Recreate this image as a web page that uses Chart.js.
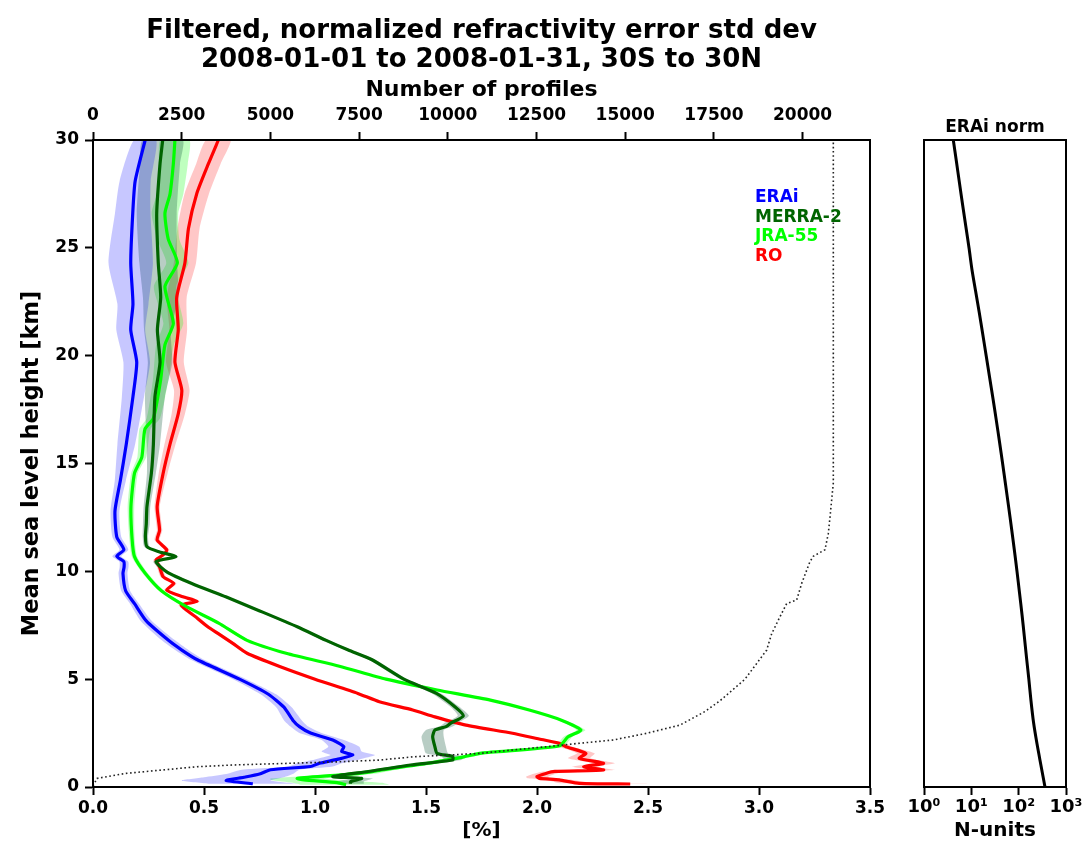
<!DOCTYPE html>
<html>
<head>
<meta charset="utf-8">
<script src="https://cdn.jsdelivr.net/npm/chart.js@4/dist/chart.umd.min.js"></script>
<style>
  html, body { margin: 0; padding: 0; background: #fff; }
  #wrap { position: relative; width: 1086px; height: 847px; overflow: hidden; }
  canvas { position: absolute; top: 0; }
</style>
</head>
<body>
<div id="wrap">
  <canvas id="main" width="900" height="847" style="left:0"></canvas>
  <canvas id="side" width="186" height="847" style="left:900px"></canvas>
</div>
<script>
// ---------------- DATA ----------------
const titleLines = ['Filtered, normalized refractivity error std dev', '2008-01-01 to 2008-01-31, 30S to 30N'];
const seriesNames = ['ERAi', 'MERRA-2', 'JRA-55', 'RO'];
const seriesColors = ['#0000ff', '#006400', '#00ff00', '#ff0000'];
const bandColors = ['rgba(0,0,255,0.22)', 'rgba(20,90,60,0.3)', 'rgba(0,255,0,0.25)', 'rgba(255,0,0,0.22)'];

// ERAi
const eraiHeight = [0.15,0.3,0.45,0.6,0.8,0.95,1.1,1.28,1.48,1.65,1.87,2.18,2.5,2.8,3.1,3.7,4.3,5.0,5.9,6.35,6.8,7.7,8.5,9.1,9.9,10.2,10.45,10.7,11.0,11.6,12.8,14.2,15.9,18.1,19.7,21.2,22.4,24.3,26.6,28.1,30];
const eraiValue  = [0.72,0.60,0.68,0.75,0.80,0.98,1.02,1.10,1.17,1.12,1.13,1.08,0.98,0.93,0.90,0.86,0.79,0.66,0.47,0.40,0.34,0.24,0.187,0.147,0.135,0.14,0.139,0.107,0.139,0.107,0.099,0.123,0.15,0.18,0.197,0.17,0.18,0.17,0.179,0.19,0.235];
const eraiSpread = [0.2,0.2,0.18,0.15,0.13,0.1,0.1,0.1,0.1,0.09,0.07,0.05,0.05,0.04,0.04,0.035,0.035,0.03,0.03,0.03,0.03,0.025,0.02,0.02,0.02,0.02,0.02,0.02,0.02,0.02,0.02,0.025,0.04,0.05,0.06,0.065,0.07,0.1,0.08,0.07,0.05];

// MERRA-2
const merraHeight = [0.15,0.25,0.4,0.48,0.72,1.02,1.25,1.41,1.56,1.87,2.33,2.64,2.8,2.95,3.3,3.72,4.34,5.0,5.9,6.35,6.81,7.43,8.2,8.82,9.44,9.98,10.45,10.68,10.9,11.14,11.6,12.2,13.0,14.55,15.9,18.1,19.7,21.2,22.7,24.3,26.6,28.9,30];
const merraValue  = [1.16,1.16,1.21,1.08,1.24,1.43,1.62,1.62,1.55,1.54,1.53,1.54,1.59,1.61,1.668,1.63,1.547,1.40,1.257,1.15,1.048,0.92,0.743,0.598,0.445,0.332,0.284,0.373,0.30,0.243,0.236,0.24,0.243,0.263,0.272,0.279,0.302,0.29,0.305,0.294,0.287,0.302,0.314];
const merraSpread = [0.06,0.06,0.05,0.05,0.04,0.04,0.04,0.05,0.05,0.05,0.05,0.04,0.03,0.03,0.025,0.02,0.02,0.015,0.015,0.015,0.015,0.012,0.012,0.012,0.012,0.012,0.012,0.012,0.012,0.012,0.012,0.015,0.015,0.02,0.03,0.045,0.055,0.06,0.08,0.085,0.09,0.09,0.09];

// JRA-55
const jraHeight = [0.1,0.2,0.33,0.4,0.63,0.79,1.1,1.4,1.57,1.9,2.33,2.64,3.1,3.57,4.03,4.5,5.0,5.6,6.2,6.8,7.6,8.36,9.1,9.9,10.68,11.5,13.0,14.55,15.3,16.6,17.1,18.9,20.5,21.5,23.2,24.3,25.4,26.6,27.5,28.9,30];
const jraValue  = [1.14,1.10,0.95,0.92,1.2,1.3,1.51,1.67,1.75,2.1,2.14,2.198,2.11,1.965,1.79,1.55,1.32,1.11,0.87,0.694,0.566,0.421,0.308,0.236,0.187,0.176,0.171,0.187,0.22,0.234,0.272,0.305,0.324,0.362,0.324,0.38,0.339,0.324,0.347,0.362,0.369];
const jraSpread = [0.2,0.2,0.15,0.12,0.08,0.06,0.05,0.04,0.03,0.02,0.02,0.02,0.015,0.012,0.012,0.012,0.012,0.012,0.012,0.012,0.012,0.012,0.012,0.012,0.012,0.012,0.015,0.015,0.02,0.025,0.03,0.035,0.04,0.045,0.05,0.05,0.05,0.06,0.06,0.065,0.065];

// RO
const roHeight = [0.14,0.17,0.33,0.40,0.48,0.63,0.72,0.79,0.94,1.1,1.33,1.56,1.87,2.03,2.2,2.49,2.87,3.25,3.57,3.95,4.34,5.0,5.6,6.2,6.66,7.1,7.43,7.9,8.44,8.6,8.82,9.13,9.44,9.75,10.2,10.53,10.76,11.0,11.45,11.9,13.0,14.55,15.9,17.3,18.4,19.7,21.2,22.7,24.3,25.9,27.5,28.9,30];
const roValue  = [2.42,2.19,2.10,2.01,2.00,2.04,2.08,2.30,2.21,2.30,2.19,2.22,2.13,2.10,2.02,1.89,1.68,1.54,1.44,1.29,1.193,1.0,0.838,0.694,0.63,0.566,0.517,0.461,0.397,0.469,0.405,0.332,0.364,0.316,0.30,0.284,0.316,0.332,0.289,0.30,0.289,0.316,0.347,0.384,0.40,0.369,0.384,0.377,0.414,0.43,0.467,0.52,0.565];
const roSpread = [0.08,0.08,0.06,0.05,0.05,0.05,0.05,0.05,0.05,0.05,0.05,0.04,0.03,0.03,0.02,0.02,0.015,0.012,0.012,0.012,0.012,0.012,0.012,0.012,0.012,0.012,0.012,0.012,0.012,0.012,0.012,0.012,0.012,0.012,0.012,0.012,0.012,0.012,0.012,0.012,0.012,0.02,0.025,0.03,0.035,0.04,0.04,0.045,0.05,0.05,0.055,0.055,0.055];

// Number of profiles (top axis)
const profileHeight = [0.05,0.2,0.4,0.63,0.94,1.02,1.17,1.25,1.40,1.56,1.72,1.87,2.03,2.18,2.49,2.87,3.5,4.0,5.0,6.35,7.1,7.74,8.5,8.67,9.44,10.45,10.7,11.0,11.76,12.5,14.1,30];
const profileCount  = [0,50,113,922,2931,3943,6962,8089,9019,10908,11847,12787,13726,14665,15604,16544,17249,17672,18376,18988,19128,19316,19551,19833,19974,20208,20302,20631,20725,20772,20866,20866];

// ERAi norm (right panel)
const normHeight = [0,1,2,3,4,5,6,7,8,9,10,11,12,13,14,15,16,17,18,19,20,21,22,23,24,25,26,27,28,29,30];
const normValue  = [360,296,244,206,182,164,146.5,131.5,117.6,104.2,92.2,80.9,70.6,61.3,53.0,45.8,39.4,33.7,28.7,24.3,20.6,17.4,14.7,12.3,10.3,8.93,7.64,6.54,5.62,4.84,4.16];

// axis ticks
const pctTicks = [0, 0.5, 1.0, 1.5, 2.0, 2.5, 3.0, 3.5];
const profileTicks = [0, 2500, 5000, 7500, 10000, 12500, 15000, 17500, 20000];
const heightTicks = [0, 5, 10, 15, 20, 25, 30];
const normTicks = [1, 10, 100, 1000];
const normTickLabels = ['10\u2070', '10\u00b9', '10\u00b2', '10\u00b3'];

// ---------------- BUILD ----------------
Chart.defaults.font.family = '"DejaVu Sans", sans-serif';
Chart.defaults.font.weight = 'bold';
Chart.defaults.color = '#000';

function pts(xs, ys) { return xs.map((x, i) => ({x: x, y: ys[i]})); }
function bandPts(xs, sp, ys) {
  const up = xs.map((x, i) => ({x: x + sp[i], y: ys[i]}));
  const lo = xs.map((x, i) => ({x: x - sp[i], y: ys[i]})).reverse();
  return up.concat(lo);
}

const series = [
  [eraiValue, eraiSpread, eraiHeight],
  [merraValue, merraSpread, merraHeight],
  [jraValue, jraSpread, jraHeight],
  [roValue, roSpread, roHeight]
];

const datasets = [];
series.forEach((s, k) => {
  datasets.push({
    label: seriesNames[k] + ' spread',
    data: bandPts(s[0], s[1], s[2]),
    showLine: true, fill: 'shape', backgroundColor: bandColors[k],
    borderWidth: 0, borderColor: 'rgba(0,0,0,0)', pointRadius: 0, tension: 0.2, order: 3
  });
});
series.forEach((s, k) => {
  datasets.push({
    label: seriesNames[k],
    data: pts(s[0], s[2]),
    showLine: true, fill: false, borderColor: seriesColors[k], borderWidth: 3.2,
    pointRadius: 0, tension: 0.2, order: 2
  });
});
datasets.push({
  label: 'Number of profiles',
  data: pts(profileCount, profileHeight),
  xAxisID: 'x2',
  showLine: true, fill: false, borderColor: '#222', borderWidth: 1.6,
  borderDash: [1.6, 2.6], pointRadius: 0, order: 1
});

const tickGrid = { display: true, drawOnChartArea: false, drawTicks: true, tickLength: 8, tickWidth: 2, color: '#000', tickColor: '#000' };
const axisBorder = { display: true, color: '#000', width: 2 };

const framePlugin = {
  id: 'frame',
  afterDatasetsDraw(chart) {
    const a = chart.chartArea, ctx = chart.ctx;
    ctx.save();
    ctx.strokeStyle = '#000'; ctx.lineWidth = 2;
    ctx.strokeRect(a.left, a.top, a.right - a.left, a.bottom - a.top);
    ctx.restore();
  }
};

const mainTextPlugin = {
  id: 'mainText',
  afterDraw(chart) {
    const a = chart.chartArea, ctx = chart.ctx;
    const cx = (a.left + a.right) / 2;
    ctx.save();
    ctx.fillStyle = '#000';
    ctx.textAlign = 'center';
    ctx.textBaseline = 'alphabetic';
    ctx.font = 'bold 26px "DejaVu Sans"';
    ctx.fillText(titleLines[0], cx, 38);
    ctx.fillText(titleLines[1], cx, 67);
    // in-plot coloured legend
    ctx.textAlign = 'left';
    ctx.textBaseline = 'middle';
    ctx.font = 'bold 17px "DejaVu Sans"';
    const lx = a.left + 0.852 * (a.right - a.left);
    seriesNames.forEach((n, k) => {
      ctx.fillStyle = seriesColors[k];
      ctx.fillText(n, lx, a.top + 58 + k * 19.5);
    });
    ctx.restore();
  }
};

new Chart(document.getElementById('main'), {
  type: 'scatter',
  data: { datasets: datasets },
  options: {
    responsive: false, animation: false, devicePixelRatio: 1,
    layout: { padding: { left: 0, right: 30, top: 70, bottom: 0 } },
    plugins: { legend: { display: false }, tooltip: { enabled: false }, title: { display: false } },
    scales: {
      x: {
        type: 'linear', position: 'bottom', min: 0, max: 3.5,
        afterBuildTicks: s => { s.ticks = pctTicks.map(v => ({value: v})); },
        ticks: { callback: v => Number(v).toFixed(1), font: { size: 17, weight: 'bold' }, padding: 3, maxRotation: 0 },
        grid: tickGrid, border: axisBorder,
        title: { display: true, text: '[%]', font: { size: 20, weight: 'bold' }, padding: { top: 0, bottom: 4 } },
        afterFit: s => { s.height = 60; }
      },
      x2: {
        type: 'linear', position: 'top', min: 0, max: 21900,
        afterBuildTicks: s => { s.ticks = profileTicks.map(v => ({value: v})); },
        ticks: { callback: v => String(v), font: { size: 17, weight: 'bold' }, padding: 6, maxRotation: 0 },
        grid: tickGrid, border: axisBorder,
        title: { display: true, text: 'Number of profiles', font: { size: 22, weight: 'bold' }, padding: { top: 7, bottom: 0 } },
        afterFit: s => { s.height = 70; }
      },
      y: {
        type: 'linear', position: 'left', min: 0, max: 30,
        afterBuildTicks: s => { s.ticks = heightTicks.map(v => ({value: v})); },
        ticks: { font: { size: 17, weight: 'bold' }, padding: 6 },
        grid: tickGrid, border: axisBorder,
        title: { display: true, text: 'Mean sea level height [km]', font: { size: 22.5, weight: 'bold' }, padding: { top: 19, bottom: 0 } },
        afterFit: s => { s.width = 93; }
      }
    }
  },
  plugins: [framePlugin, mainTextPlugin]
});

const sideTextPlugin = {
  id: 'sideText',
  afterDraw(chart) {
    const a = chart.chartArea, ctx = chart.ctx;
    ctx.save();
    ctx.fillStyle = '#000';
    ctx.textAlign = 'center';
    ctx.textBaseline = 'alphabetic';
    ctx.font = 'bold 17px "DejaVu Sans"';
    ctx.fillText('ERAi norm', (a.left + a.right) / 2, a.top - 8);
    ctx.restore();
  }
};

new Chart(document.getElementById('side'), {
  type: 'scatter',
  data: { datasets: [{
    label: 'ERAi norm',
    data: pts(normValue, normHeight),
    showLine: true, fill: false, borderColor: '#000', borderWidth: 3, pointRadius: 0, tension: 0.3
  }] },
  options: {
    responsive: false, animation: false, devicePixelRatio: 1,
    layout: { padding: { left: 24, right: 20, top: 140, bottom: 0 } },
    plugins: { legend: { display: false }, tooltip: { enabled: false } },
    scales: {
      x: {
        type: 'logarithmic', position: 'bottom', min: 1, max: 1000,
        afterBuildTicks: s => { s.ticks = normTicks.map(v => ({value: v, major: true})); },
        ticks: { callback: (v) => normTickLabels[normTicks.indexOf(v)] ?? '', font: { size: 18, weight: 'bold' }, padding: 2, maxRotation: 0, autoSkip: false },
        grid: tickGrid, border: axisBorder,
        title: { display: true, text: 'N-units', font: { size: 20, weight: 'bold' }, padding: { top: 0, bottom: 4 } },
        afterFit: s => { s.height = 60; }
      },
      y: { type: 'linear', min: 0, max: 30, display: false }
    }
  },
  plugins: [framePlugin, sideTextPlugin]
});
</script>
</body>
</html>
